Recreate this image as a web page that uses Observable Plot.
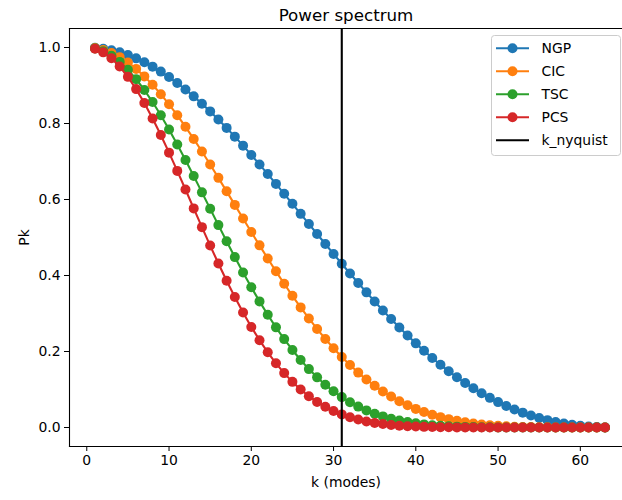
<!DOCTYPE html>
<html><head><meta charset="utf-8">
<script src="https://cdn.jsdelivr.net/npm/d3@7"></script>
<script src="https://cdn.jsdelivr.net/npm/@observablehq/plot@0.6"></script>
<style>
body{margin:0;background:#fff;overflow:hidden}
#wrap{position:relative;width:622px;height:500px;overflow:hidden}
#legend{position:absolute;left:0;top:0}
</style></head><body><div id="wrap"></div>
<script>
const kModes = [1,2,3,4,5,6,7,8,9,10,11,12,13,14,15,16,17,18,19,20,21,22,23,24,25,26,27,28,29,30,31,32,33,34,35,36,37,38,39,40,41,42,43,44,45,46,47,48,49,50,51,52,53,54,55,56,57,58,59,60,61,62,63];
const ngp = [0.9992,0.9968,0.9928,0.9872,0.9801,0.9714,0.9613,0.9496,0.9366,0.9222,0.9065,0.8896,0.8714,0.8522,0.8319,0.8106,0.7884,0.7654,0.7417,0.7173,0.6923,0.6669,0.6411,0.6150,0.5887,0.5622,0.5357,0.5092,0.4829,0.4567,0.4308,0.4053,0.3802,0.3556,0.3315,0.3080,0.2853,0.2632,0.2419,0.2214,0.2018,0.1830,0.1651,0.1482,0.1322,0.1172,0.1031,0.0901,0.0780,0.0668,0.0566,0.0474,0.0391,0.0316,0.0251,0.0194,0.0145,0.0104,0.0070,0.0044,0.0024,0.0010,0.0003];
const cic = [0.9984,0.9936,0.9856,0.9746,0.9606,0.9437,0.9240,0.9018,0.8772,0.8505,0.8218,0.7913,0.7594,0.7262,0.6920,0.6570,0.6215,0.5858,0.5501,0.5145,0.4793,0.4448,0.4110,0.3782,0.3465,0.3161,0.2870,0.2593,0.2331,0.2086,0.1856,0.1643,0.1445,0.1264,0.1099,0.0949,0.0814,0.0693,0.0585,0.0490,0.0407,0.0335,0.0273,0.0220,0.0175,0.0137,0.0106,0.0081,0.0061,0.0045,0.0032,0.0022,0.0015,0.0010,0.0006,0.0004,0.0002,0.0001,0.0001,0.0000,0.0000,0.0000,0.0000];
const tsc = [0.9976,0.9904,0.9785,0.9621,0.9414,0.9167,0.8882,0.8564,0.8216,0.7843,0.7449,0.7039,0.6617,0.6188,0.5756,0.5326,0.4900,0.4484,0.4080,0.3690,0.3319,0.2966,0.2635,0.2326,0.2040,0.1777,0.1537,0.1320,0.1126,0.0953,0.0800,0.0666,0.0550,0.0450,0.0364,0.0292,0.0232,0.0182,0.0142,0.0109,0.0082,0.0061,0.0045,0.0033,0.0023,0.0016,0.0011,0.0007,0.0005,0.0003,0.0002,0.0001,0.0001,0.0000,0.0000,0.0000,0.0000,0.0000,0.0000,0.0000,0.0000,0.0000,0.0000];
const pcs = [0.9968,0.9872,0.9715,0.9498,0.9227,0.8905,0.8538,0.8133,0.7696,0.7233,0.6753,0.6262,0.5766,0.5273,0.4788,0.4317,0.3863,0.3432,0.3026,0.2647,0.2298,0.1978,0.1689,0.1431,0.1201,0.0999,0.0823,0.0672,0.0544,0.0435,0.0345,0.0270,0.0209,0.0160,0.0121,0.0090,0.0066,0.0048,0.0034,0.0024,0.0017,0.0011,0.0007,0.0005,0.0003,0.0002,0.0001,0.0001,0.0000,0.0000,0.0000,0.0000,0.0000,0.0000,0.0000,0.0000,0.0000,0.0000,0.0000,0.0000,0.0000,0.0000,0.0000];
const seriesNames = ["NGP","CIC","TSC","PCS"];
const seriesColors = ["#1f77b4","#ff7f0e","#2ca02c","#d62728"];
const kNyquist = [31];
const xTicks = [0,10,20,30,40,50,60];
const yTicks = [0,0.2,0.4,0.6,0.8,1.0];

const seriesValues = [ngp, cic, tsc, pcs];
const rows = [];
seriesValues.forEach((arr, i) => arr.forEach((v, j) => rows.push({k: kModes[j], pk: v, s: seriesNames[i]})));

const FONT = "DejaVu Sans, sans-serif";
const R = 5;
const marks = [];
seriesNames.forEach((s, i) => {
  const d = rows.filter(r => r.s === s);
  marks.push(Plot.line(d, {x: "k", y: "pk", stroke: seriesColors[i], strokeWidth: 2.1}));
  marks.push(Plot.dot(d, {x: "k", y: "pk", fill: seriesColors[i], r: R}));
});
marks.push(Plot.ruleX(kNyquist, {stroke: "black", strokeWidth: 2.1}));
marks.push(Plot.frame({anchor: "left", stroke: "black", strokeWidth: 1.1}));
marks.push(Plot.frame({anchor: "bottom", stroke: "black", strokeWidth: 1.1}));
marks.push(Plot.frame({anchor: "top", stroke: "black", strokeWidth: 1.1}));
marks.push(Plot.axisX(xTicks, {tickSize: 5, tickPadding: 4, fontSize: 13.9, tickFormat: d => String(d),
  label: "k (modes)", labelAnchor: "center", labelArrow: "none", labelOffset: 40, stroke: "black", color: "black"}));
marks.push(Plot.axisY(yTicks, {tickSize: 5, tickPadding: 4, fontSize: 13.9, tickFormat: d3.format(".1f"),
  label: "Pk", labelAnchor: "center", labelArrow: "none", labelOffset: 50, stroke: "black", color: "black"}));
marks.push(Plot.text(["Power spectrum"], {text: d => d, frameAnchor: "top", dy: -8, lineAnchor: "bottom", fontSize: 16.7, fill: "black"}));

const chart = Plot.plot({
  width: 622, height: 500,
  marginTop: 28, marginBottom: 54, marginLeft: 69, marginRight: 0,
  x: {domain: [-2.1, 66.1], range: [69, 630]},
  y: {domain: [-0.05, 1.05]},
  style: {fontFamily: FONT, fontSize: "13.9px", color: "black", background: "white", overflow: "hidden"},
  marks
});
const wrap = document.getElementById("wrap");
wrap.appendChild(chart);

// legend
const legendItems = seriesNames.map((s, i) => ({label: s, color: seriesColors[i], marker: true}))
  .concat([{label: "k_nyquist", color: "black", marker: false}]);
const lg = d3.select(wrap).append("svg").attr("id", "legend").attr("width", 622).attr("height", 500)
  .style("font-family", FONT);
lg.append("rect").attr("x", 491.5).attr("y", 35.5).attr("width", 129).attr("height", 120)
  .attr("rx", 3).attr("fill", "white").attr("fill-opacity", 0.8).attr("stroke", "#cccccc").attr("stroke-width", 1);
legendItems.forEach((it, i) => {
  const cy = 48.3 + i * 23;
  const g = lg.append("g");
  g.append("line").attr("x1", 496).attr("x2", 529).attr("y1", cy).attr("y2", cy)
    .attr("stroke", it.color).attr("stroke-width", 2.1);
  if (it.marker) g.append("circle").attr("cx", 512.5).attr("cy", cy).attr("r", R).attr("fill", it.color);
  g.append("text").attr("x", 541.5).attr("y", cy).attr("dy", "0.35em").attr("font-size", 13.9)
    .attr("fill", "black").text(it.label);
});
</script></body></html>
